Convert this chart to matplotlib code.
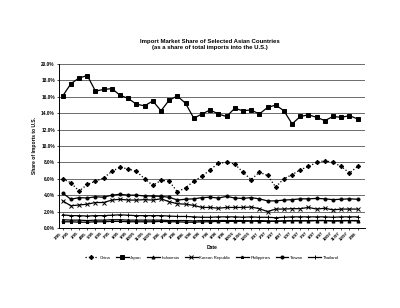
#!/usr/bin/env python3
"""Import market share of selected Asian countries (scanned Excel chart)."""

import matplotlib

matplotlib.use("Agg")
import matplotlib.pyplot as plt
import numpy as np
from matplotlib.ticker import FuncFormatter, MultipleLocator

# monthly labels, Jan 1995 .. Jan 1998
dates = [f"{m}/{y:02d}" for y in (95, 96, 97) for m in range(1, 13)] + ["1/98"]

china = [6.0, 5.5, 4.5, 5.3, 5.7, 6.1, 6.9, 7.4, 7.2, 6.9, 6.0, 5.2, 5.8, 5.7, 4.4, 4.9,
         5.7, 6.3, 7.1, 7.9, 8.0, 7.8, 6.8, 5.9, 6.8, 6.4, 5.0, 6.0, 6.5, 7.1, 7.5, 8.0,
         8.2, 8.0, 7.5, 6.7, 7.5]
japan = [16.1, 17.6, 18.3, 18.6, 16.7, 16.9, 17.0, 16.2, 15.8, 15.1, 14.9, 15.5, 14.3,
         15.6, 16.1, 15.2, 13.4, 13.9, 14.4, 13.9, 13.6, 14.6, 14.3, 14.4, 13.9, 14.7,
         15.0, 14.3, 12.7, 13.6, 13.8, 13.5, 13.1, 13.6, 13.5, 13.7, 13.3]
indonesia = [1.0, 0.95, 0.95, 0.9, 0.95, 0.95, 1.0, 1.0, 0.95, 0.95, 0.95, 0.95, 0.95,
             0.9, 0.9, 0.9, 0.85, 0.9, 0.9, 0.9, 0.9, 0.9, 0.9, 0.85, 0.9, 0.85, 0.8,
             0.85, 0.9, 0.9, 0.85, 0.9, 0.9, 0.85, 0.85, 0.9, 0.85]
korea = [3.3, 2.7, 2.8, 2.9, 3.1, 3.1, 3.4, 3.5, 3.4, 3.4, 3.45, 3.4, 3.55, 3.2, 2.95,
         2.9, 2.75, 2.5, 2.5, 2.4, 2.5, 2.5, 2.5, 2.55, 2.35, 2.0, 2.3, 2.3, 2.35, 2.35,
         2.5, 2.3, 2.4, 2.2, 2.3, 2.3, 2.3]
philippines = [0.75, 0.75, 0.7, 0.7, 0.75, 0.75, 0.8, 0.8, 0.75, 0.75, 0.75, 0.75, 0.8,
               0.75, 0.75, 0.7, 0.7, 0.75, 0.75, 0.8, 0.8, 0.8, 0.8, 0.85, 0.8, 0.8,
               0.85, 0.85, 0.85, 0.85, 0.9, 0.9, 0.9, 0.85, 0.9, 0.9, 0.9]
taiwan = [4.25, 3.5, 3.7, 3.65, 3.8, 3.75, 4.0, 4.1, 4.0, 4.0, 3.9, 3.9, 3.85, 3.75,
          3.4, 3.5, 3.55, 3.7, 3.75, 3.65, 3.85, 3.65, 3.6, 3.7, 3.55, 3.3, 3.3, 3.4,
          3.45, 3.55, 3.55, 3.6, 3.55, 3.45, 3.5, 3.55, 3.5]
thailand = [1.6, 1.5, 1.5, 1.45, 1.5, 1.5, 1.55, 1.6, 1.55, 1.5, 1.5, 1.5, 1.5, 1.45,
            1.4, 1.4, 1.35, 1.3, 1.3, 1.35, 1.35, 1.35, 1.3, 1.35, 1.3, 1.3, 1.25,
            1.3, 1.35, 1.35, 1.35, 1.35, 1.35, 1.3, 1.35, 1.35, 1.35]

series = [
    ("China", china, "D", ":"),
    ("Japan", japan, "s", "-"),
    ("Indonesia", indonesia, "^", "-"),
    ("Korean Republic", korea, "x", "-"),
    ("Philippines", philippines, "*", "-"),
    ("Taiwan", taiwan, "o", "-"),
    ("Thailand", thailand, "+", "-"),
]

plt.rcParams["font.family"] = ["Liberation Sans", "DejaVu Sans"]

fig = plt.figure(figsize=(4.0, 3.08), dpi=100)
ax = fig.add_axes([0.1475, 0.26, 0.765, 0.532])

x = np.arange(len(dates))
for name, vals, marker, ls in series:
    ax.plot(x, vals, color="black", linestyle=ls, linewidth=0.9, marker=marker,
            markersize=2.2, markeredgewidth=0.7, label=name)

ax.set_xlim(-0.45, len(dates) - 0.1)
ax.set_ylim(0, 20)
ax.yaxis.set_major_locator(MultipleLocator(2))
ax.yaxis.set_major_formatter(FuncFormatter(lambda v, _: f"{v:.1f}%"))
ax.grid(axis="y", color="#555555", linewidth=0.6)
ax.set_axisbelow(True)
for side in ("top", "right"):
    ax.spines[side].set_visible(False)
ax.spines["left"].set_linewidth(0.7)
ax.spines["bottom"].set_linewidth(0.7)

ax.set_xticks(x)
ax.set_xticklabels(dates, rotation=45, ha="right", fontsize=3.2, fontweight="bold")
ax.tick_params(axis="y", labelsize=3.4, length=1.5, width=0.5, pad=1.5)
for lbl in ax.get_yticklabels():
    lbl.set_fontweight("bold")
ax.tick_params(axis="x", length=1.5, width=0.5, pad=1)

ax.set_xlabel("Date", fontsize=3.6, fontweight="bold", labelpad=2)
ax.set_ylabel("Share of Imports to U.S.", fontsize=3.6, fontweight="bold", labelpad=3)

fig.text(0.525, 0.855, "Import Market Share of Selected Asian Countries\n"
         "(as a share of total imports into the U.S.)",
         ha="center", va="center", fontsize=4.3, fontweight="bold", linespacing=1.3)

ax.legend(loc="upper center", bbox_to_anchor=(0.5, -0.16), ncol=7, frameon=False,
          fontsize=3.1, handlelength=3, columnspacing=1.2, handletextpad=0.4,
          borderaxespad=0)

fig.savefig("out.png", dpi=100, facecolor="white")
